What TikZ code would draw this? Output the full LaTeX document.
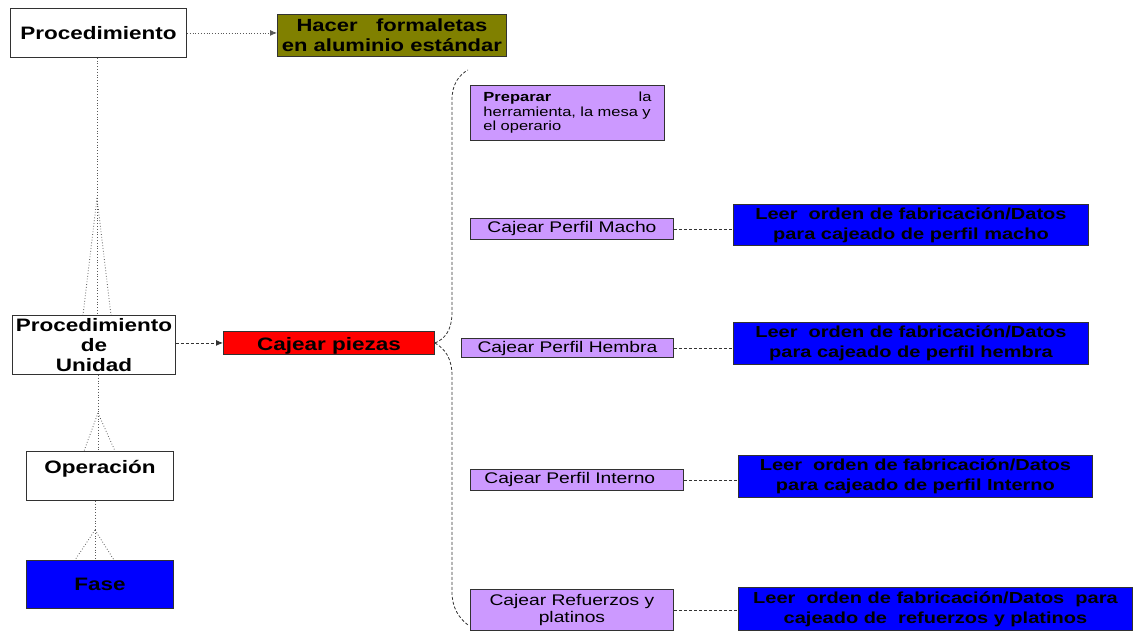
\documentclass[tikz,border=0pt]{standalone}
\usepackage{fontspec}
\setmainfont{Liberation Sans}[FakeStretch=1.25]
\usetikzlibrary{arrows.meta,calc}
\definecolor{lav}{RGB}{204,153,255}
\definecolor{olv}{RGB}{128,128,0}
\definecolor{edge}{RGB}{50,50,50}

\tikzset{
  box/.style={draw=edge, line width=0.9pt, inner sep=0pt, align=center, anchor=north west},
  big/.style={font=\fontsize{18}{20}\selectfont\bfseries},
  task/.style={box, fill=lav, font=\fontsize{15.4}{16.5}\selectfont},
  data/.style={box, fill=blue, font=\fontsize{16}{20}\selectfont\bfseries},
  dots/.style={draw=black!65, line width=0.8pt, dotted},
  dashes/.style={draw=black!80, line width=0.8pt, dash pattern=on 3pt off 2pt},
  tip/.style={-{Latex[length=7pt,width=6pt]}},
}

\begin{document}
\begin{tikzpicture}[x=1pt,y=-1pt]
\useasboundingbox (0,0) rectangle (1134,631);

% hierarchy column
\node[box,big,minimum width=176pt,minimum height=49pt] (proc) at (10,8) {Procedimiento};
\node[box,big,fill=olv,minimum width=229pt,minimum height=42pt,font=\fontsize{17.6}{19.5}\selectfont\bfseries] (hacer) at (277,14) {Hacer\ \ \ formaletas\\en aluminio estándar};
\node[box,big,minimum width=163pt,minimum height=59pt] (pu) at (12,315) {Procedimiento\\de\\Unidad};
\node[box,big,minimum width=147pt,minimum height=49pt,text height=22pt,text depth=27pt] (op) at (26,451) {Operación};
\node[box,big,fill=blue,minimum width=147pt,minimum height=48pt] (fase) at (26,560) {Fase};

% unit procedure
\node[box,big,fill=red,minimum width=211pt,minimum height=23pt,text height=19pt,text depth=4pt] (cp) at (223,331) {Cajear piezas};

% tasks
\node[box,fill=lav,minimum width=194pt,minimum height=55pt,text width=168pt,align=left,font=\fontsize{13.2}{14.5}\selectfont] (prep) at (470,85) {\textbf{Preparar}\hfill la\\herramienta, la mesa y\\el operario};
\node[task,minimum width=203pt,minimum height=21pt,text height=14pt,text depth=7pt] (macho) at (470,218) {Cajear Perfil Macho};
\node[task,minimum width=212pt,minimum height=19pt,text height=14pt,text depth=5pt] (hembra) at (461,338) {Cajear Perfil Hembra};
\node[task,minimum width=213pt,minimum height=21pt,text width=185pt,align=left,text height=14pt,text depth=7pt] (interno) at (470,469) {Cajear Perfil Interno};
\node[task,minimum width=203pt,minimum height=41pt] (refu) at (470,589) {Cajear Refuerzos y\\platinos};

% data reading steps
\node[data,minimum width=355pt,minimum height=41pt] (lm) at (733,204) {Leer\ \ orden de fabricación/Datos\\para cajeado de perfil macho};
\node[data,minimum width=355pt,minimum height=42pt] (lh) at (733,322) {Leer\ \ orden de fabricación/Datos\\para cajeado de perfil hembra};
\node[data,minimum width=354pt,minimum height=42pt] (li) at (738,455) {Leer\ \ orden de fabricación/Datos\\para cajeado de perfil Interno};
\node[data,minimum width=394pt,minimum height=43pt] (lr) at (738,587) {Leer\ \ orden de fabricación/Datos\ \ para\\cajeado de\ \ refuerzos y platinos};

% dotted link to the procedure name
\draw[dots,tip] (proc.east) -- (proc.east -| hacer.west);

% crow's-foot links down the hierarchy
\coordinate (f1) at (97,198);
\coordinate (f2) at (98,413);
\coordinate (f3) at (95,530);
\draw[dots] (proc.south -| f1) -- (f1);
\foreach \d in {-14,0,14} \draw[dots] (f1) -- ($(pu.north -| f1)+(\d,0)$);
\draw[dots] (pu.south -| f2) -- (f2);
\foreach \d in {-14,0,17} \draw[dots] (f2) -- ($(op.north -| f2)+(\d,0)$);
\draw[dots] (op.south -| f3) -- (f3);
\foreach \d in {-20,0,19} \draw[dots] (f3) -- ($(fase.north -| f3)+(\d,0)$);

% unit procedure to its operation
\draw[dashes,tip] (cp.west -| pu.east) -- (cp.west);

% brace gathering the tasks
\coordinate (btop) at (468,70);
\coordinate (bbot) at (468,625);
\draw[dashes] (cp.east) .. controls (445,339) and (452,330) .. (452,312) -- (452,100) .. controls (452,84) and (459,75) .. (btop);
\draw[dashes] (cp.east) .. controls (445,349) and (452,358) .. (452,376) -- (452,592) .. controls (452,608) and (459,618) .. (bbot);

% tasks to their data steps
\draw[dashes] (macho.east) -- (macho.east -| lm.west);
\draw[dashes] (hembra.east) -- (hembra.east -| lh.west);
\draw[dashes] (interno.east) -- (interno.east -| li.west);
\draw[dashes] (refu.east) -- (refu.east -| lr.west);
\end{tikzpicture}
\end{document}
